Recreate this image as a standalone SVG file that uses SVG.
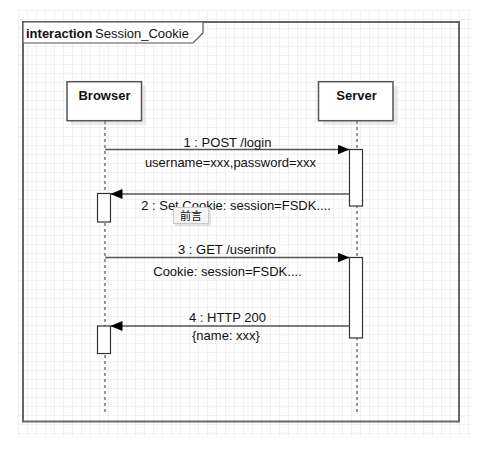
<svg xmlns="http://www.w3.org/2000/svg" width="493" height="454" viewBox="0 0 493 454">
<defs>
<pattern id="grid" x="18" y="10" width="9" height="9" patternUnits="userSpaceOnUse">
<path d="M0 0 H9 M0 0 V9" fill="none" stroke="#e6e6e6" stroke-width="1"/>
</pattern>
<marker id="arr" viewBox="0 0 12 10" refX="12" refY="5" markerWidth="12" markerHeight="10" markerUnits="userSpaceOnUse" orient="auto">
<path d="M0 0 L12 5 L0 10 Z" fill="#000"/>
</marker>
</defs>
<style>
text{font-family:"Liberation Sans",Arial,sans-serif;font-size:13px;fill:#111}
.b{font-weight:bold}
.box{fill:#fff;stroke:#555;stroke-width:1.5}
.sh{fill:#ddd;opacity:0.6}
.life{stroke:#777;stroke-width:1.5;stroke-dasharray:3 3;fill:none}
.act{fill:#fff;stroke:#333;stroke-width:1.2}
.msg{stroke:#555;stroke-width:1.5;fill:none;marker-end:url(#arr)}
.m{text-anchor:middle}
</style>
<rect x="0" y="0" width="493" height="454" fill="#fff"/>
<rect x="18" y="10" width="453" height="427" fill="url(#grid)"/>
<g id="frame">
<rect x="23" y="22" width="436" height="399.5" fill="none" stroke="#666" stroke-width="2"/>
<path d="M23 22 H203 V33 L193 43 H23 Z" fill="#fff" stroke="#555" stroke-width="1.2"/>
<text x="26" y="37.5" class="b">interaction</text>
<text x="95" y="37.5">Session_Cookie</text>
</g>
<g id="browser">
<rect x="71" y="86" width="75" height="39" class="sh"/>
<rect x="67" y="81.7" width="74.5" height="39" class="box"/>
<text x="104.5" y="100" class="b m">Browser</text>
<line x1="105" y1="121" x2="105" y2="412" class="life"/>
</g>
<g id="server">
<rect x="323" y="86" width="75" height="39" class="sh"/>
<rect x="318.5" y="81.7" width="74.5" height="39" class="box"/>
<text x="356.5" y="100" class="b m">Server</text>
<line x1="357" y1="121" x2="357" y2="412" class="life"/>
</g>
<g id="activations">
<rect x="349.5" y="149.5" width="13" height="56.5" class="act"/>
<rect x="97.5" y="193.5" width="13" height="28.5" class="act"/>
<rect x="349.5" y="257.5" width="13" height="80.5" class="act"/>
<rect x="97.5" y="326" width="13" height="27.5" class="act"/>
</g>
<g id="connectors">
<line x1="105" y1="149.5" x2="349.5" y2="149.5" class="msg"/>
<line x1="349.5" y1="194" x2="110.5" y2="194" class="msg"/>
<line x1="105" y1="257.5" x2="349.5" y2="257.5" class="msg"/>
<line x1="349.5" y1="326" x2="110.5" y2="326" class="msg"/>
</g>
<g id="labels">
<text x="227.5" y="146.5" class="m">1 : POST /login</text>
<text x="230.5" y="167" class="m">username=xxx,password=xxx</text>
<text x="236" y="210" class="m">2 : Set Cookie: session=FSDK....</text>
<text x="227" y="254" class="m">3 : GET /userinfo</text>
<text x="227.5" y="276" class="m">Cookie: session=FSDK....</text>
<text x="227.5" y="322" class="m">4 : HTTP 200</text>
<text x="226" y="340" class="m">{name: xxx}</text>
</g>
<g id="tooltip">
<rect x="175" y="209" width="36" height="17" fill="#ccc" opacity="0.5"/>
<rect x="173.5" y="207.5" width="35" height="16" fill="#f4f4f4" stroke="#c8c8c8" stroke-width="1"/>
<text x="191" y="220" class="m" style="font-family:'Noto Sans CJK SC',sans-serif;font-size:11px">前言</text>
</g>
</svg>
